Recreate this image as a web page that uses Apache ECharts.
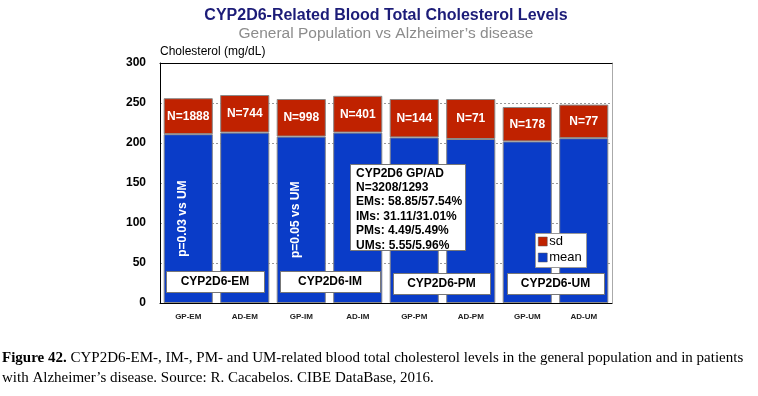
<!DOCTYPE html>
<html>
<head>
<meta charset="utf-8">
<script src="https://cdn.jsdelivr.net/npm/echarts@6/dist/echarts.min.js"></script>
<style>
  html, body { margin: 0; padding: 0; background: #fff; }
  #chart { width: 758px; height: 396px; }
</style>
</head>
<body>
<div id="chart"></div>
<script>
// data
var categories = ['GP-EM', 'AD-EM', 'GP-IM', 'AD-IM', 'GP-PM', 'AD-PM', 'GP-UM', 'AD-UM'];
var meanValues = [211, 213, 208, 213, 207, 205, 202, 206];
var sdValues = [45, 47, 47, 46, 48, 50, 43, 42];
var nLabels = ['N=1888', 'N=744', 'N=998', 'N=401', 'N=144', 'N=71', 'N=178', 'N=77'];
var pLabels = ['p=0.03 vs UM', '', 'p=0.05 vs UM', '', '', '', '', ''];
var yTicks = [0, 50, 100, 150, 200, 250, 300];
var groupLabels = ['CYP2D6-EM', 'CYP2D6-IM', 'CYP2D6-PM', 'CYP2D6-UM'];
var infoLines = ['CYP2D6 GP/AD', 'N=3208/1293', 'EMs: 58.85/57.54%', 'IMs: 31.11/31.01%', 'PMs: 4.49/5.49%', 'UMs: 5.55/5.96%'];

var RED = '#C02200';
var BLUE = '#0A3CC8';
var font = 'Arial, "Liberation Sans", sans-serif';

var myChart = echarts.init(document.getElementById('chart'));

var meanData = meanValues.map(function (v, i) {
  if (!pLabels[i]) return v;
  return {
    value: v,
    label: {
      show: true, position: 'inside', rotate: 90, offset: [0, -6],
      formatter: pLabels[i], color: '#fff', fontWeight: 'bold', fontSize: 12, fontFamily: font
    }
  };
});

// white boxes under each pair of bars
var groupBoxes = [
  { x: 166, y: 271, w: 98 },
  { x: 280, y: 271, w: 100 },
  { x: 393, y: 273, w: 97 },
  { x: 507, y: 273, w: 97 }
];

var graphics = [];
groupBoxes.forEach(function (b, i) {
  graphics.push({
    type: 'rect', left: b.x, top: b.y, z: 100,
    shape: { width: b.w, height: 21 },
    style: { fill: '#fff', stroke: '#777', lineWidth: 1 }
  });
  graphics.push({
    type: 'text', x: b.x + b.w / 2, y: b.y + 11, z: 101,
    style: {
      text: groupLabels[i], fill: '#000', font: 'bold 12px ' + font,
      textAlign: 'center', textVerticalAlign: 'middle'
    }
  });
});

// info box
graphics.push({
  type: 'rect', left: 350, top: 164, z: 100,
  shape: { width: 115, height: 86 },
  style: { fill: '#fff', stroke: '#777', lineWidth: 1 }
});
graphics.push({
  type: 'text', left: 356, top: 166, z: 101,
  style: {
    text: infoLines.join('\n'), fill: '#000', font: 'bold 12px ' + font, lineHeight: 14.4
  }
});

// legend box
graphics.push({
  type: 'rect', left: 535, top: 233, z: 100,
  shape: { width: 51, height: 34 },
  style: { fill: '#fff', stroke: '#999', lineWidth: 1 }
});

// axis name
graphics.push({
  type: 'text', left: 160, top: 46,
  style: { text: 'Cholesterol (mg/dL)', fill: '#000', font: '12px ' + font }
});

// caption
graphics.push({
  type: 'text', left: 2, top: 348,
  style: {
    text: '{b|Figure 42.} CYP2D6-EM-, IM-, PM- and UM-related blood total cholesterol levels in the general population and in patients\nwith Alzheimer\u2019s disease. Source: R. Cacabelos. CIBE DataBase, 2016.',
    fill: '#000', font: '15px "Liberation Serif", "Times New Roman", serif', lineHeight: 20,
    rich: { b: { fontWeight: 'bold', fontFamily: '"Liberation Serif", serif', fontSize: 15 } }
  }
});

var option = {
  backgroundColor: '#ffffff',
  animation: false,
  title: {
    text: 'CYP2D6-Related Blood Total Cholesterol Levels',
    subtext: 'General Population vs Alzheimer\u2019s disease',
    left: 381, textAlign: 'center', top: 3, itemGap: 2,
    textStyle: { color: '#1C1C78', fontWeight: 'bold', fontSize: 16, fontFamily: font },
    subtextStyle: { color: '#8C8C8C', fontSize: 15.5, fontFamily: font }
  },
  legend: {
    data: ['sd', 'mean'],
    orient: 'vertical', left: 538, top: 235, z: 110, padding: 0,
    itemWidth: 9, itemHeight: 9, itemGap: 3,
    icon: 'rect',
    itemStyle: { borderColor: '#555', borderWidth: 0.5 },
    textStyle: { fontSize: 13, fontFamily: font, color: '#000', padding: [0, 0, 0, -3] }
  },
  grid: { left: 160, right: 146, top: 63, bottom: 93 },
  xAxis: [{
    type: 'category', data: categories,
    axisLine: { lineStyle: { color: '#000', width: 1 } },
    axisTick: { show: false },
    axisLabel: { fontSize: 8, fontWeight: 'bold', color: '#222', fontFamily: font, margin: 10 }
  }, {
    type: 'category', data: categories, position: 'top',
    axisLine: { onZero: false, lineStyle: { color: '#000', width: 1 } },
    axisTick: { show: false }, axisLabel: { show: false }, z: 20
  }],
  yAxis: [{
    type: 'value', min: yTicks[0], max: yTicks[yTicks.length - 1], interval: 50,
    axisLine: { show: true, lineStyle: { color: '#000' } },
    axisTick: { show: false },
    axisLabel: { fontSize: 12, fontWeight: 'bold', color: '#000', fontFamily: font, margin: 14 },
    splitLine: { showMaxLine: false, lineStyle: { color: '#999', type: [2, 2] } }
  }, {
    type: 'value', min: yTicks[0], max: yTicks[yTicks.length - 1], interval: 50, position: 'right',
    axisLine: { show: true, onZero: false, lineStyle: { color: '#aaa' } },
    axisTick: { show: false }, axisLabel: { show: false }, splitLine: { show: false }
  }],
  series: [{
    name: 'mean', type: 'bar', stack: 'chol', data: meanData,
    barCategoryGap: '13%',
    itemStyle: { color: BLUE, borderColor: '#8a8a8a', borderWidth: 1 }
  }, {
    name: 'sd', type: 'bar', stack: 'chol', data: sdValues,
    itemStyle: { color: RED, borderColor: '#8a8a8a', borderWidth: 1 },
    label: {
      show: true, position: 'inside',
      formatter: function (p) { return nLabels[p.dataIndex]; },
      color: '#fff', fontWeight: 'bold', fontSize: 12, fontFamily: font
    }
  }],
  graphic: graphics
};

myChart.setOption(option);
</script>
</body>
</html>
